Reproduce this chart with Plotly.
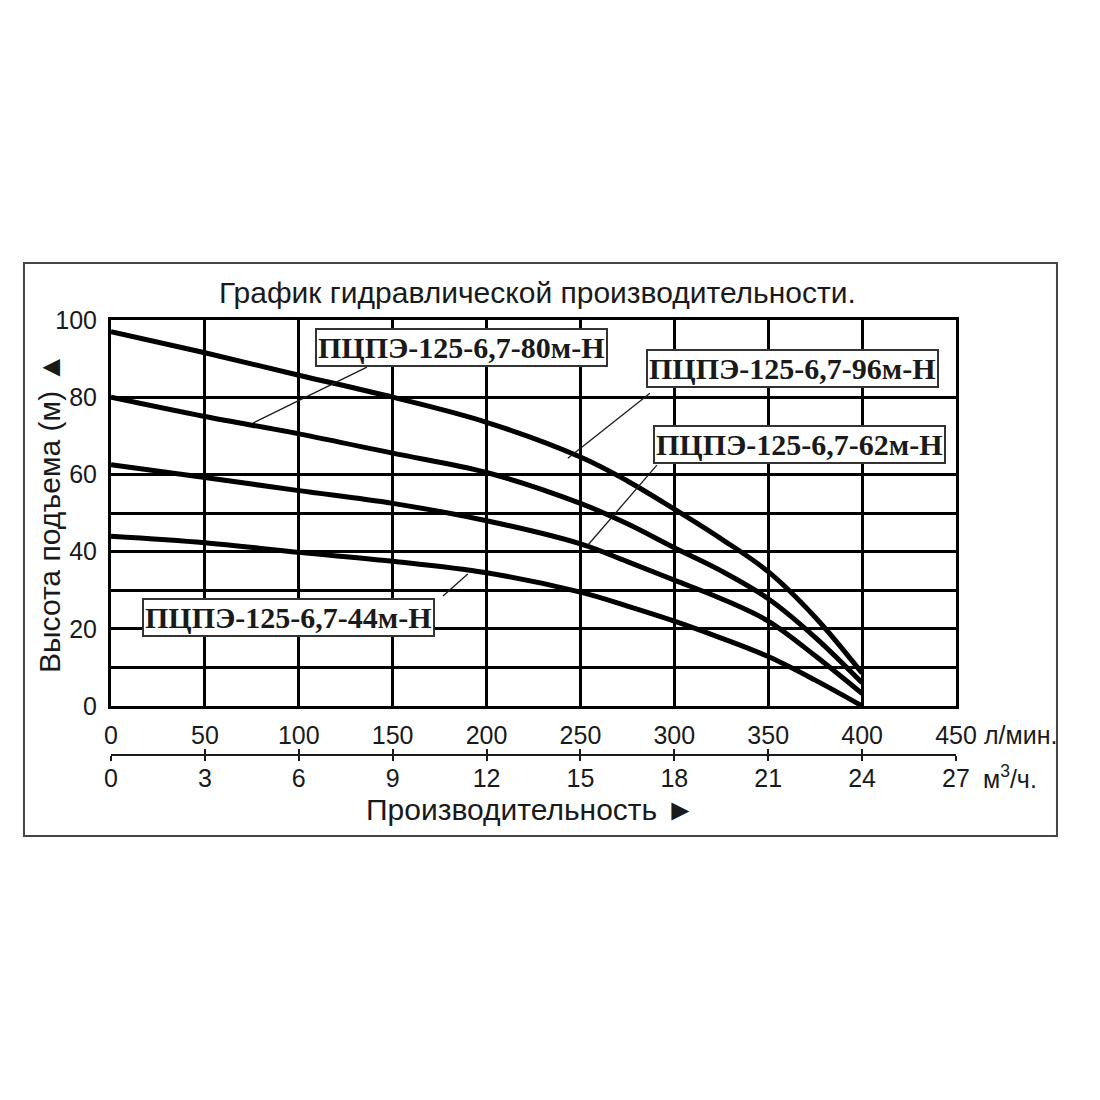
import plotly.graph_objects as go

# расход, л/мин
flow_lpm = [0, 50, 100, 150, 200, 250, 275, 300, 325, 350, 375, 400]

# напор, м
head_96 = [97, 91.5, 85.7, 80, 73.5, 64.5, 58.3, 51, 43.3, 34.8, 23, 8.5]
head_80 = [80, 75, 70.5, 65.5, 60.5, 52.5, 47.2, 41, 35, 27.8, 17.8, 6]
head_62 = [62.5, 59.2, 55.8, 52.5, 48, 42, 37.4, 32.6, 27.8, 22, 13, 3.2]
head_44 = [44, 42.3, 39.8, 37.5, 34.5, 29.5, 25.9, 22, 17.6, 12.8, 6.7, 0]

x_ticks_lpm = [0, 50, 100, 150, 200, 250, 300, 350, 400, 450]
x_ticks_m3h = [0, 3, 6, 9, 12, 15, 18, 21, 24, 27]
y_grid = [0, 10, 20, 30, 40, 50, 60, 80, 100]
y_labels = ["0", "", "20", "", "40", "", "60", "80", "100"]

names = [
    "ПЦПЭ-125-6,7-96м-Н",
    "ПЦПЭ-125-6,7-80м-Н",
    "ПЦПЭ-125-6,7-62м-Н",
    "ПЦПЭ-125-6,7-44м-Н",
]

SANS = "Liberation Sans, Arial, sans-serif"
SERIF = "Liberation Serif, Times New Roman, serif"
INK = "#1a1a1a"

fig = go.Figure()

for name, head in zip(names, [head_96, head_80, head_62, head_44]):
    fig.add_trace(
        go.Scatter(
            x=flow_lpm,
            y=head,
            name=name,
            mode="lines",
            line=dict(color="black", width=5, shape="spline", smoothing=1.0),
            showlegend=False,
        )
    )

# невидимые точки, чтобы нижние шкалы (м3/ч) точно отрисовались
for ax in ["x2", "x3"]:
    fig.add_trace(
        go.Scatter(
            x=[0], y=[0], xaxis=ax, yaxis="y",
            mode="markers", marker=dict(opacity=0),
            showlegend=False, hoverinfo="skip",
        )
    )

# выноски: (точка на кривой, точка у подписи, центр подписи)
callouts = [
    (names[1], (75.6, 73.3), (136.3, 87.8), (186.9, 92.9)),
    (names[0], (243.3, 64.2), (287.0, 81.0), (362.8, 87.5)),
    (names[2], (254.0, 41.7), (290.7, 62.4), (366.5, 67.7)),
    (names[3], (190.0, 34.2), (176.8, 28.5), (94.5, 23.0)),
]
for text, (x0, y0), (x1, y1), (tx, ty) in callouts:
    fig.add_shape(
        type="line", xref="x", yref="y",
        x0=x0, y0=y0, x1=x1, y1=y1,
        line=dict(color=INK, width=1.3),
    )
    fig.add_annotation(
        x=tx, y=ty, xref="x", yref="y",
        xanchor="center", yanchor="middle",
        text=f"<b>{text}</b>", showarrow=False,
        font=dict(family=SERIF, size=30, color=INK),
        bgcolor="white", bordercolor="#333", borderwidth=2, borderpad=1,
    )

# рамка вокруг всего графика
fig.add_shape(
    type="rect", xref="paper", yref="paper",
    x0=-0.103, x1=1.1195, y0=-0.1727, y1=1.1295,
    line=dict(color="#444", width=2),
)


def paper_text(x, y, text, size=30, xanchor="center", angle=0):
    fig.add_annotation(
        x=x, y=y, xref="paper", yref="paper",
        xanchor=xanchor, yanchor="middle", textangle=angle,
        text=text, showarrow=False,
        font=dict(family=SANS, size=size, color=INK),
    )


paper_text(0.5053, 1.0636, "График гидравлической производительности.", size=30)
paper_text(-0.0722, 0.5614, "Высота подъема (м) ▲", size=30, angle=-90)
paper_text(0.4959, -0.1125, "Производительность ►", size=30)
paper_text(1.031, 0.0568, "л/мин.", size=25, xanchor="left")
paper_text(1.029, -0.0386, "м<sup>3</sup>/ч.", size=25, xanchor="left")

fig.update_layout(
    width=1100,
    height=1100,
    margin=dict(l=103, r=152, t=312, b=348),
    paper_bgcolor="white",
    plot_bgcolor="white",
    font=dict(family=SANS, size=25, color=INK),
    xaxis=dict(
        range=[0, 450],
        tickvals=x_ticks_lpm,
        ticks="",
        ticklabelstandoff=5,
        showgrid=True, gridcolor="black", gridwidth=3,
        showline=True, linecolor="black", linewidth=3, mirror=True,
        zeroline=False,
        tickfont=dict(size=25),
        anchor="y",
        automargin=False,
    ),
    xaxis2=dict(
        range=[0, 27],
        tickvals=x_ticks_m3h,
        overlaying="x", anchor="free", position=5 / 440, side="bottom",
        showgrid=False, zeroline=False,
        showline=True, linecolor=INK, linewidth=2,
        ticks="inside", ticklen=5, tickwidth=2, tickcolor=INK,
        ticklabelstandoff=1,
        tickfont=dict(size=25),
        automargin=False,
    ),
    xaxis3=dict(
        range=[0, 27],
        tickvals=x_ticks_m3h,
        overlaying="x", anchor="free", position=5 / 440, side="bottom",
        showgrid=False, zeroline=False, showline=False,
        showticklabels=False,
        ticks="outside", ticklen=5, tickwidth=2, tickcolor=INK,
        automargin=False,
    ),
    yaxis=dict(
        range=[0, 100],
        domain=[54 / 440, 1],
        tickvals=y_grid,
        ticktext=y_labels,
        ticks="",
        ticklabelstandoff=6,
        showgrid=True, gridcolor="black", gridwidth=3,
        showline=True, linecolor="black", linewidth=3, mirror=True,
        zeroline=False,
        tickfont=dict(size=25),
        automargin=False,
    ),
)

fig.write_html("out.html")
